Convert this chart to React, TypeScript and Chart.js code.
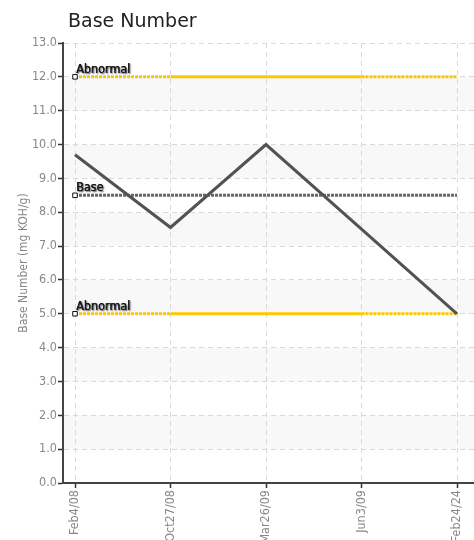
import React, { useEffect, useRef } from 'react';
import { Chart, registerables } from 'chart.js';

Chart.register(...registerables);

const categories = ['Feb4/08', 'Oct27/08', 'Mar26/09', 'Jun3/09', 'Feb24/24'];
const baseNumber = [9.7, 7.55, 10.0, 7.5, 5.0];
const upperAbnormal = [12, 12, 12, 12, 12];
const baseLine = [8.5, 8.5, 8.5, 8.5, 8.5];
const lowerAbnormal = [5, 5, 5, 5, 5];
const lineLabels = ['Abnormal', 'Base', 'Abnormal'];
const chartTitle = 'Base Number';
const yAxisTitle = 'Base Number (mg KOH/g)';
const yMin = 0;
const yMax = 13;
const shadedBands = [
  [11, 12],
  [9, 10],
  [7, 8],
  [5, 6],
  [3, 4],
  [1, 2],
];

const NARROW = "'DejaVu Sans Condensed', 'Liberation Sans Narrow', sans-serif";
const YELLOW = '#fcc800';

const toPoints = (vals: number[]) => vals.map((y, i) => ({ x: i, y }));

const bandsPlugin = {
  id: 'bands',
  beforeDraw(chart: any) {
    const { ctx, chartArea, scales } = chart;
    const y = scales.y;
    ctx.save();
    ctx.fillStyle = '#f8f8f8';
    for (const [lo, hi] of shadedBands) {
      const top = y.getPixelForValue(hi);
      const bot = y.getPixelForValue(lo);
      ctx.fillRect(chartArea.left, top, chartArea.right - chartArea.left, bot - top);
    }
    ctx.restore();
  },
};

const titlePlugin = {
  id: 'leftTitle',
  afterDraw(chart: any) {
    const { ctx, chartArea } = chart;
    ctx.save();
    ctx.font = "19px 'DejaVu Sans', sans-serif";
    ctx.fillStyle = '#222';
    ctx.textAlign = 'left';
    ctx.textBaseline = 'alphabetic';
    ctx.fillText(chartTitle, chartArea.left + 5, 27);
    ctx.restore();
  },
};

const labelPlugin = {
  id: 'lineLabels',
  afterDatasetsDraw(chart: any) {
    const { ctx } = chart;
    ctx.save();
    ctx.font = `12.5px ${NARROW}`;
    ctx.fillStyle = '#1a1a1a';
    ctx.textAlign = 'left';
    ctx.textBaseline = 'alphabetic';
    ctx.shadowColor = 'rgba(0,0,0,0.45)';
    ctx.shadowBlur = 1.5;
    ctx.shadowOffsetX = 1;
    ctx.shadowOffsetY = 1;
    for (let d = 1; d <= 3; d++) {
      const meta = chart.getDatasetMeta(d);
      const pt = meta.data[0];
      if (!pt) continue;
      ctx.fillText(lineLabels[d - 1], pt.x + 1, pt.y - 4);
      ctx.fillText(lineLabels[d - 1], pt.x + 1.4, pt.y - 4);
    }
    ctx.restore();
  },
};

const thresholdDash = (ctx: any) =>
  ctx.p0DataIndex === 0 || ctx.p0DataIndex === 3 ? [3, 1] : [];

export default function App() {
  const ref = useRef<HTMLCanvasElement | null>(null);

  useEffect(() => {
    if (!ref.current) return;
    const firstPointRadius = (c: any) => (c.dataIndex === 0 ? 3.2 : 0);
    const chart = new Chart(ref.current, {
      type: 'line',
      data: {
        datasets: [
          {
            label: 'Base Number',
            data: toPoints(baseNumber),
            borderColor: '#525252',
            borderWidth: 3,
            pointRadius: 0,
            pointHoverRadius: 0,
            tension: 0,
            order: 0,
          },
          {
            label: lineLabels[0],
            data: toPoints(upperAbnormal),
            borderColor: YELLOW,
            borderWidth: 3,
            pointRadius: firstPointRadius,
            pointStyle: 'rect',
            pointBackgroundColor: '#fff',
            pointBorderColor: '#111',
            pointBorderWidth: 1,
            segment: { borderDash: thresholdDash },
            order: 1,
          },
          {
            label: lineLabels[1],
            data: toPoints(baseLine),
            borderColor: '#666',
            borderWidth: 3,
            borderDash: [3, 1],
            pointRadius: firstPointRadius,
            pointStyle: 'rect',
            pointBackgroundColor: '#fff',
            pointBorderColor: '#111',
            pointBorderWidth: 1,
            order: 1,
          },
          {
            label: lineLabels[2],
            data: toPoints(lowerAbnormal),
            borderColor: YELLOW,
            borderWidth: 3,
            pointRadius: firstPointRadius,
            pointStyle: 'rect',
            pointBackgroundColor: '#fff',
            pointBorderColor: '#111',
            pointBorderWidth: 1,
            segment: { borderDash: thresholdDash },
            order: 1,
          },
        ],
      },
      options: {
        animation: false,
        responsive: false,
        devicePixelRatio: 1,
        layout: { autoPadding: false, padding: { top: 43, right: 0, left: 0, bottom: 0 } },
        plugins: {
          legend: { display: false },
          tooltip: { enabled: false },
          title: { display: false },
        },
        scales: {
          x: {
            type: 'linear',
            min: -0.1257,
            max: 4.178,
            afterBuildTicks: (scale: any) => {
              scale.ticks = categories.map((_, i) => ({ value: i }));
            },
            afterFit: (scale: any) => {
              scale.height = 57;
              scale.paddingLeft = 0;
              scale.paddingRight = 0;
            },
            ticks: {
              autoSkip: false,
              includeBounds: false,
              minRotation: 90,
              maxRotation: 90,
              padding: 2,
              color: '#888',
              font: { family: NARROW, size: 12.5 },
              callback: (v: any) => categories[v] ?? '',
            },
            grid: {
              color: '#d9d9d9',
              lineWidth: 1,
              tickColor: '#333',
              tickLength: 5,
              tickWidth: 1.5,
              tickBorderDash: [],
            },
            border: { display: true, color: '#444', width: 2, dash: [5, 4] },
          },
          y: {
            type: 'linear',
            min: yMin,
            max: yMax,
            afterFit: (scale: any) => {
              scale.width = 63;
            },
            ticks: {
              stepSize: 1,
              padding: 1,
              color: '#888',
              font: { family: NARROW, size: 12.5 },
              callback: (v: any) => Number(v).toFixed(1),
            },
            grid: {
              color: '#d9d9d9',
              lineWidth: 1,
              tickColor: '#333',
              tickLength: 5,
              tickWidth: 1.5,
              tickBorderDash: [],
            },
            border: { display: true, color: '#444', width: 2, dash: [5, 4] },
            title: {
              display: true,
              text: yAxisTitle,
              color: '#888',
              font: { family: NARROW, size: 12 },
              padding: { top: 17, bottom: 0 },
            },
          },
        },
      },
      plugins: [bandsPlugin, titlePlugin, labelPlugin],
    } as any);
    return () => chart.destroy();
  }, []);

  return (
    <div style={{ position: 'absolute', left: 0, top: 0, width: 474, height: 540 }}>
      <canvas ref={ref} width={474} height={540} style={{ display: 'block' }} />
    </div>
  );
}
